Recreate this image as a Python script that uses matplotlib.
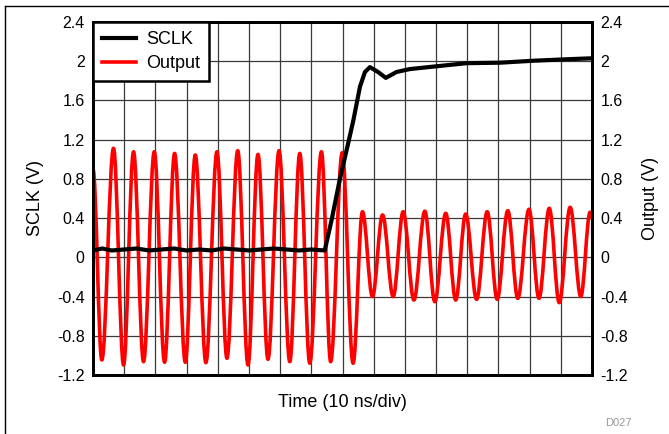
import numpy as np
import matplotlib.pyplot as plt
from matplotlib.path import Path
from matplotlib.patches import PathPatch
from matplotlib.lines import Line2D

plt.rcParams['font.family'] = ['Liberation Sans', 'DejaVu Sans']

# Time in divisions (10 ns/div), values
sclk_t = [0.0, 0.3, 0.6, 1.0, 1.4, 1.8, 2.2, 2.6, 3.0, 3.4, 3.8, 4.2, 4.6, 5.0,
          5.4, 5.8, 6.2, 6.6, 7.0, 7.43, 7.65, 7.91, 8.18, 8.35, 8.56, 8.72,
          8.88, 9.14, 9.39, 9.73, 10.16, 10.91, 11.98, 13.05, 14.12, 15.19, 16.0]
sclk_v = [0.07, 0.09, 0.07, 0.08, 0.09, 0.07, 0.08, 0.09, 0.07, 0.08, 0.07, 0.09,
          0.08, 0.07, 0.08, 0.09, 0.08, 0.07, 0.08, 0.07, 0.38, 0.79, 1.16, 1.40,
          1.74, 1.89, 1.94, 1.89, 1.83, 1.89, 1.92, 1.945, 1.98, 1.985, 2.005, 2.02, 2.03]

# Output: start point, then alternating troughs / peaks, then end point
out_t = [0.0, 0.283, 0.658, 0.98, 1.30, 1.62, 1.965, 2.295, 2.616, 2.96, 3.28,
         3.62, 3.975, 4.295, 4.64, 4.97, 5.29, 5.61, 5.965, 6.31, 6.63, 6.95,
         7.325, 7.62, 7.99, 8.34, 8.64, 8.96, 9.285, 9.625, 9.945, 10.29, 10.64,
         10.96, 11.31, 11.63, 11.95, 12.30, 12.64, 12.96, 13.30, 13.62, 13.98,
         14.30, 14.63, 14.95, 15.30, 15.64, 15.94, 16.0]
out_v = [0.90, -1.047, 1.112, -1.098, 1.077, -1.064, 1.077, -1.07, 1.06, -1.07,
         1.044, -1.074, 1.077, -1.03, 1.088, -1.098, 1.05, -1.04, 1.088, -1.064,
         1.06, -1.08, 1.077, -1.064, 1.067, -1.08, 0.465, -0.40, 0.432, -0.40,
         0.465, -0.435, 0.47, -0.452, 0.449, -0.435, 0.442, -0.428, 0.465,
         -0.428, 0.476, -0.418, 0.49, -0.418, 0.50, -0.462, 0.51, -0.40, 0.46, 0.40]

yticks = [-1.2, -0.8, -0.4, 0, 0.4, 0.8, 1.2, 1.6, 2, 2.4]
ytick_labels = ['-1.2', '-0.8', '-0.4', '0', '0.4', '0.8', '1.2', '1.6', '2', '2.4']

fig = plt.figure(figsize=(6.69, 4.34), dpi=100)
ax = fig.add_axes([93 / 669, 1 - 375 / 434, 499 / 669, 353 / 434])

# smooth curve through the extrema (horizontal tangents at peaks/troughs)
k = 0.3642
verts = [(out_t[0], out_v[0])]
codes = [Path.MOVETO]
for i in range(len(out_t) - 1):
    t0, v0, t1, v1 = out_t[i], out_v[i], out_t[i + 1], out_v[i + 1]
    dt = t1 - t0
    verts += [(t0 + k * dt, v0), (t1 - k * dt, v1), (t1, v1)]
    codes += [Path.CURVE4] * 3
ax.add_patch(PathPatch(Path(verts, codes), facecolor='none', edgecolor='#ff0000',
                       lw=2.6, joinstyle='round', capstyle='round', zorder=3))

ax.plot(sclk_t, sclk_v, color='black', lw=3.0, zorder=4, solid_joinstyle='round')

ax.set_xlim(0, 16)
ax.set_ylim(-1.2, 2.4)
ax.set_xticks(np.arange(0, 17, 1))
ax.set_xticklabels([])
ax.set_yticks(yticks)
ax.set_yticklabels(ytick_labels)
ax.tick_params(length=0, labelsize=11.5, pad=6)
ax.grid(True, color='#3a3a3a', lw=0.9)
ax.set_axisbelow(True)
for s in ax.spines.values():
    s.set_linewidth(2.0)

ax.set_ylabel('SCLK (V)', fontsize=13, labelpad=9)
ax.set_xlabel('Time (10 ns/div)', fontsize=13, labelpad=8)

ax2 = ax.twinx()
ax2.set_ylim(-1.2, 2.4)
ax2.set_yticks(yticks)
ax2.set_yticklabels(ytick_labels)
ax2.tick_params(length=0, labelsize=11.5, pad=6)
ax2.set_ylabel('Output (V)', fontsize=13, labelpad=10)
for s in ax2.spines.values():
    s.set_linewidth(2.0)

handles = [Line2D([], [], color='black', lw=3.0),
           Line2D([], [], color='#ff0000', lw=2.6)]
leg = ax2.legend(handles, ['SCLK', 'Output'], loc='upper left', bbox_to_anchor=(0, 1),
                 borderaxespad=0, fancybox=False, framealpha=1, fontsize=13,
                 handlelength=1.9, handletextpad=0.55, labelspacing=0.4,
                 borderpad=0.5)
leg.get_frame().set_edgecolor('black')
leg.get_frame().set_linewidth(1.8)

fig.text(618 / 669, 1 - 423 / 434, 'D027', fontsize=8, color='#999999',
         ha='center', va='center')

# page frame lines from the datasheet
fig.add_artist(Line2D([5 / 669, 1], [1 - 6 / 434, 1 - 6 / 434], color='black', lw=1))
fig.add_artist(Line2D([5 / 669, 5 / 669], [0, 1 - 6 / 434], color='black', lw=1))

fig.savefig('out.png', dpi=100)
